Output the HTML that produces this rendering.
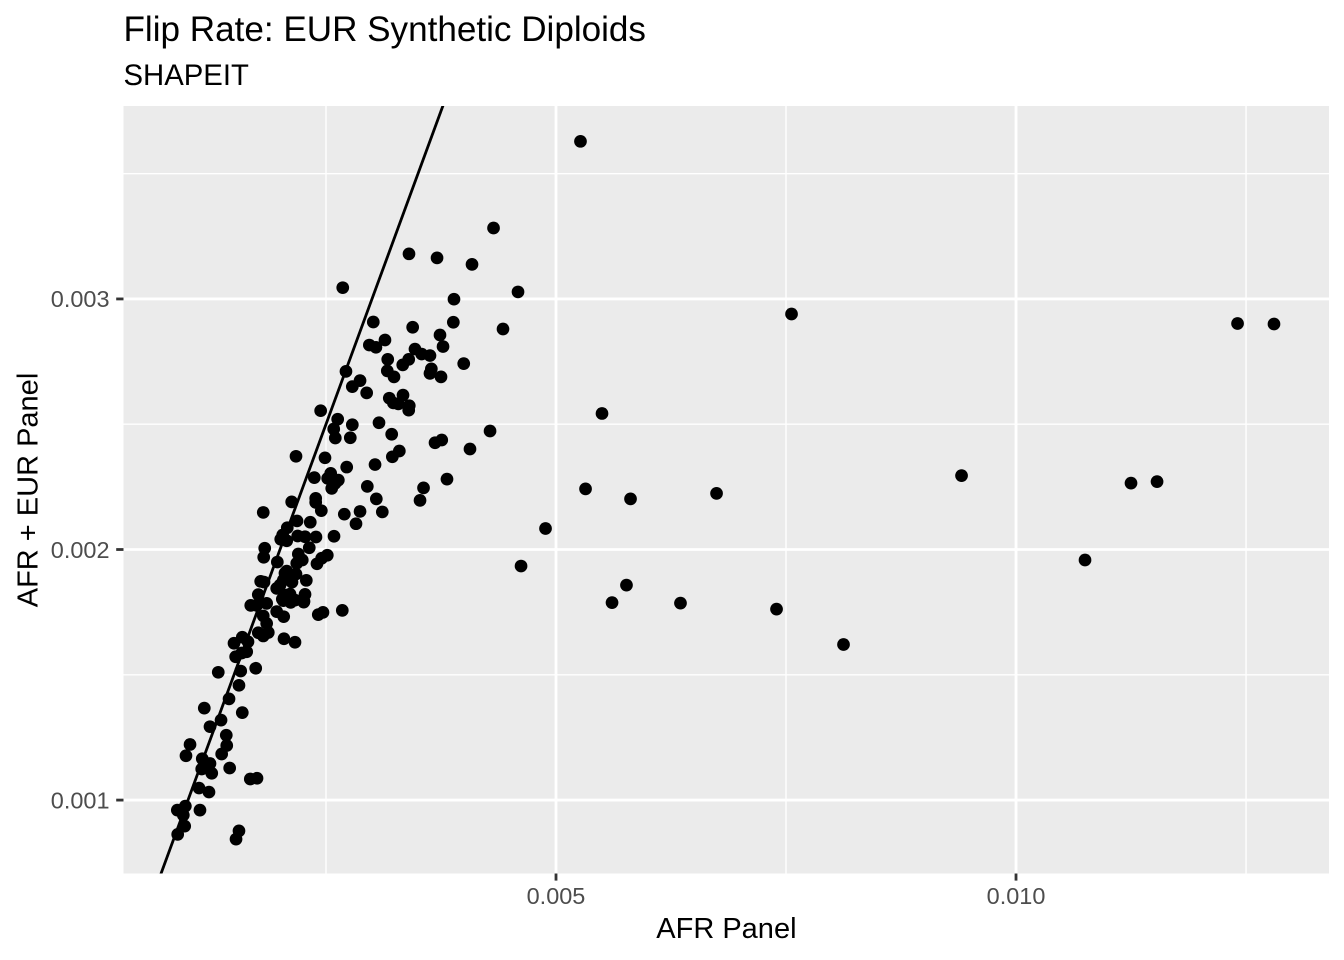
<!DOCTYPE html>
<html lang="en">
<head>
<meta charset="utf-8">
<title>Flip Rate: EUR Synthetic Diploids</title>
<style>
html,body{margin:0;padding:0;background:#fff;}
svg{display:block;font-family:"Liberation Sans",Arial,sans-serif;}
</style>
</head>
<body>
<svg id="chart" xmlns="http://www.w3.org/2000/svg" width="1344" height="960" viewBox="0 0 1344 960">
  <defs><clipPath id="panel-clip"><rect x="123.5" y="106" width="1205.5" height="767.5"/></clipPath></defs>
  <rect x="0" y="0" width="1344" height="960" fill="#ffffff"/>
  <text x="123.5" y="41" font-size="35.1" fill="#000">Flip Rate: EUR Synthetic Diploids</text>
  <text x="123.5" y="85" font-size="29.3" fill="#000">SHAPEIT</text>
  <rect x="123.5" y="106" width="1205.5" height="767.5" fill="#EBEBEB"/>
  <g id="grid"></g>
  <g id="points" clip-path="url(#panel-clip)"></g>
  <g id="ref" clip-path="url(#panel-clip)"></g>
  <g id="axes"></g>
  <text x="726.4" y="938" font-size="29" text-anchor="middle" fill="#000">AFR Panel</text>
  <text transform="translate(37.5 490) rotate(-90)" font-size="29" text-anchor="middle" fill="#000">AFR + EUR Panel</text>
</svg>
<script>
const xMajorTicks = [0.005, 0.010];
const xMajorLabels = ["0.005", "0.010"];
const xMinorTicks = [0.0025, 0.0075, 0.0125];
const yMajorTicks = [0.001, 0.002, 0.003];
const yMajorLabels = ["0.001", "0.002", "0.003"];
const yMinorTicks = [0.0015, 0.0025, 0.0035];
const refSlope = 1;
const refIntercept = 0;
const afrPanel = [
0.000888,0.000964,0.000949,0.000884,0.000971,0.001130,0.001120,0.001228,0.001522,0.001554,
0.001677,0.001750,0.001453,0.001258,0.001149,0.001239,0.001155,0.000978,0.001022,0.001366,
0.001421,0.001416,0.001239,0.001359,0.001177,0.001590,0.001446,0.001554,0.001329,0.001573,
0.001736,0.001518,0.001500,0.001590,0.001638,0.001652,0.001584,0.002043,0.002163,0.001764,
0.001818,0.001873,0.001855,0.001818,0.002040,0.001964,0.002416,0.002467,0.002677,0.001682,
0.001747,0.001855,0.002036,0.002116,0.002258,
0.002174,0.002489,0.002725,0.003033,0.003221,0.003297,0.002373,0.002551,0.002518,0.002634,
0.002598,0.002562,0.002949,0.003047,0.003112,0.002870,0.002699,0.002826,0.002127,0.002388,
0.002388,0.002449,0.001818,0.002185,0.002329,0.002079,0.002029,0.002008,0.002073,0.002192,
0.002272,0.002391,0.002318,0.002587,0.001834,0.001823,0.001971,0.002199,0.002242,0.002182,
0.002514,0.002453,0.002402,0.002073,0.002174,0.002286,0.002036,0.001964,0.001790,0.001764,
0.002109,0.002025,0.002272,0.002261,0.002109,0.002087,0.002130,0.002000,0.002054,0.002163,
0.002065,0.001826,
0.002682,0.003891,0.004587,0.003014,0.003442,0.003884,0.004424,0.003739,0.003772,0.003141,
0.002971,0.003043,0.003467,0.003540,0.003630,0.003171,0.003399,0.003334,0.003997,0.003645,
0.003630,0.003750,0.003166,0.003239,0.002717,0.002870,0.002786,0.002942,0.003188,0.003337,
0.003232,0.003286,0.003405,0.003399,0.002442,0.002627,0.002584,0.002601,0.002786,0.002764,
0.003076,0.003214,0.003758,0.003685,0.004283,0.004065,
0.005266,0.004321,0.003402,0.003707,0.004087,0.007560,0.012408,0.012804,0.005500,0.009408,
0.011250,0.011533,0.005321,0.003560,0.003815,0.003522,0.005810,0.006745,0.004886,0.004620,
0.010750,0.005766,0.005609,0.006353,0.007397,0.008125
];
const afrEurPanel = [
0.000863,0.000896,0.000940,0.000960,0.000976,0.000960,0.001048,0.001032,0.000844,0.000877,
0.001084,0.001087,0.001128,0.001107,0.001124,0.001146,0.001165,0.001177,0.001222,0.001184,
0.001218,0.001259,0.001293,0.001319,0.001367,0.001349,0.001404,0.001458,0.001510,0.001515,
0.001526,0.001572,0.001626,0.001650,0.001592,0.001632,0.001587,0.001644,0.001630,0.001668,
0.001655,0.001669,0.001705,0.001735,0.001732,0.001752,0.001740,0.001749,0.001757,0.001777,
0.001777,0.001785,0.001796,0.001789,0.001790,
0.002372,0.002366,0.002329,0.002339,0.002370,0.002393,0.002287,0.002304,0.002284,0.002277,
0.002264,0.002244,0.002252,0.002202,0.002150,0.002152,0.002141,0.002103,0.002190,0.002204,
0.002188,0.002155,0.002148,0.002114,0.002109,0.002087,0.002058,0.002041,0.002035,0.002054,
0.002051,0.002050,0.002007,0.002053,0.002005,0.001969,0.001950,0.001982,0.001958,0.001945,
0.001977,0.001965,0.001943,0.001914,0.001902,0.001877,0.001878,0.001845,0.001873,0.001820,
0.001822,0.001802,0.001821,0.001793,0.001898,0.001882,0.001870,0.001858,0.001906,0.001798,
0.001818,0.001870,
0.003045,0.002999,0.003028,0.002908,0.002887,0.002907,0.002880,0.002856,0.002810,0.002836,
0.002816,0.002807,0.002800,0.002780,0.002774,0.002759,0.002759,0.002737,0.002742,0.002721,
0.002703,0.002689,0.002713,0.002689,0.002711,0.002674,0.002650,0.002625,0.002604,0.002616,
0.002585,0.002581,0.002574,0.002556,0.002554,0.002520,0.002481,0.002445,0.002498,0.002446,
0.002506,0.002460,0.002437,0.002426,0.002473,0.002401,
0.003629,0.003283,0.003180,0.003164,0.003138,0.002940,0.002902,0.002900,0.002543,0.002295,
0.002265,0.002271,0.002242,0.002246,0.002281,0.002196,0.002202,0.002224,0.002084,0.001934,
0.001958,0.001858,0.001788,0.001786,0.001762,0.001621
];

const SVG_NS = "http://www.w3.org/2000/svg";
const panel = {left: 123.5, right: 1329, top: 106, bottom: 873};
const xDomain = [0.0002989, 0.013402];
const yDomain = [0.000709, 0.00377];
function xScale(v) {
  return panel.left + (v - xDomain[0]) / (xDomain[1] - xDomain[0]) * (panel.right - panel.left);
}
function yScale(v) {
  return panel.bottom - (v - yDomain[0]) / (yDomain[1] - yDomain[0]) * (panel.bottom - panel.top);
}
function make(tag, attrs, parent) {
  const el = document.createElementNS(SVG_NS, tag);
  for (const k in attrs) el.setAttribute(k, attrs[k]);
  parent.appendChild(el);
  return el;
}
const grid = document.getElementById("grid");
const axes = document.getElementById("axes");
const pointsGroup = document.getElementById("points");
const refGroup = document.getElementById("ref");

xMinorTicks.forEach(function (t) {
  const el = make("line", {x1: xScale(t), x2: xScale(t), y1: panel.top, y2: panel.bottom + 0.5, stroke: "#fff", "stroke-width": 1.4}, grid);
  
  
});
yMinorTicks.forEach(function (t) {
  const el = make("line", {x1: panel.left, x2: panel.right, y1: yScale(t), y2: yScale(t), stroke: "#fff", "stroke-width": 1.4}, grid);
  
  
});
xMajorTicks.forEach(function (t, i) {
  const g = make("line", {x1: xScale(t), x2: xScale(t), y1: panel.top, y2: panel.bottom + 0.5, stroke: "#fff", "stroke-width": 2.8}, grid);
  
  
  const tick = make("line", {x1: xScale(t), x2: xScale(t), y1: panel.bottom + 0.5, y2: panel.bottom + 7.6, stroke: "#333333", "stroke-width": 2.8}, axes);
  
  
  const label = make("text", {x: xScale(t), y: 903.8, "font-size": 23.47, "text-anchor": "middle", fill: "#4D4D4D"}, axes);
  
  
  label.textContent = xMajorLabels[i];
});
yMajorTicks.forEach(function (t, i) {
  const g = make("line", {x1: panel.left, x2: panel.right, y1: yScale(t), y2: yScale(t), stroke: "#fff", "stroke-width": 2.8}, grid);
  
  
  const tick = make("line", {x1: panel.left - 7.3, x2: panel.left, y1: yScale(t), y2: yScale(t), stroke: "#333333", "stroke-width": 2.8}, axes);
  
  
  const label = make("text", {x: 109.5, y: yScale(t) + 8.3, "font-size": 23.47, "text-anchor": "end", fill: "#4D4D4D"}, axes);
  
  
  label.textContent = yMajorLabels[i];
});
afrPanel.forEach(function (v, i) {
  const c = make("circle", {cx: xScale(v), cy: yScale(afrEurPanel[i]), r: 6.35, fill: "#000"}, pointsGroup);
  
  
});
const refLine = make("line", {
  x1: xScale(xDomain[0]), y1: yScale(refSlope * xDomain[0] + refIntercept),
  x2: xScale(xDomain[1]), y2: yScale(refSlope * xDomain[1] + refIntercept),
  stroke: "#000", "stroke-width": 2.8
}, refGroup);


</script>
</body>
</html>
